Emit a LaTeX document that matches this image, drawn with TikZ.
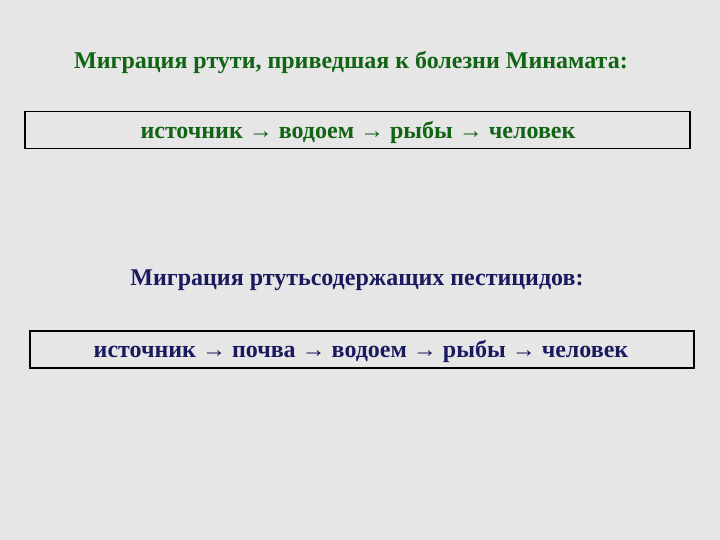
\documentclass[tikz,border=0pt]{standalone}
\usepackage{fontspec}
\setmainfont{Liberation Serif}
\definecolor{bg}{HTML}{E6E6E6}
\definecolor{tgreen}{HTML}{106414}
\definecolor{tnavy}{HTML}{1A1A60}
\begin{document}
\begin{tikzpicture}[x=1pt,y=-1pt,
  title/.style={font=\fontsize{24}{28}\selectfont\bfseries, inner sep=0pt, anchor=center},
  chainbox/.style={draw=black, line width=1.2pt, minimum height=37pt, inner sep=0pt}]
\useasboundingbox (0,0) rectangle (720,540);
\fill[bg] (0,0) rectangle (720,540);
\node[title, text=tgreen] (t1) at (351,63) {Миграция ртути, приведшая к болезни Минамата:};
\node[chainbox, minimum width=665pt] (b1) at (357.5,130) {};
\node[title, text=tgreen] (c1) at (358,132) {источник → водоем → рыбы → человек};
\node[title, text=tnavy] (t2) at (357,280) {Миграция ртутьсодержащих пестицидов:};
\node[chainbox, minimum width=664pt] (b2) at (362,349.5) {};
\node[title, text=tnavy] (c2) at (361,351) {источник → почва → водоем → рыбы → человек};
\end{tikzpicture}
\end{document}
